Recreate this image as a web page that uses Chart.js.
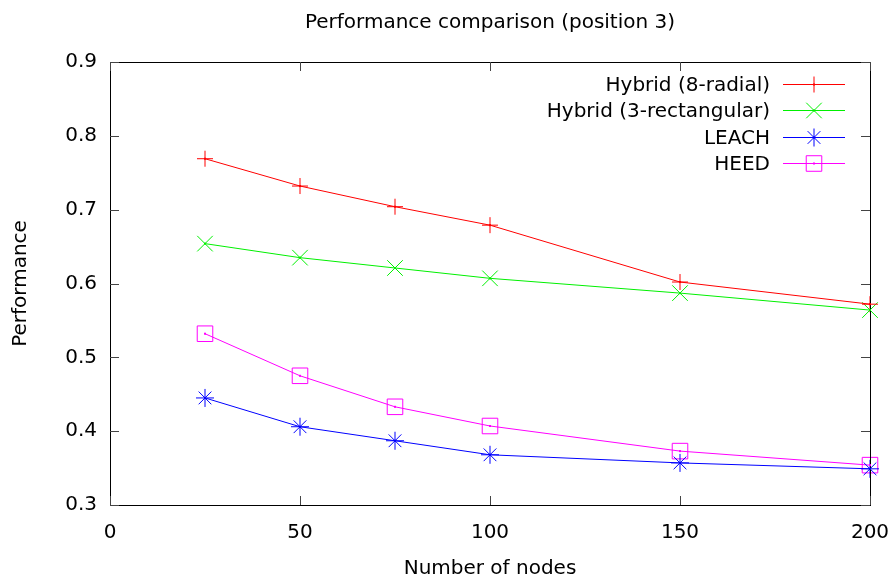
<!DOCTYPE html>
<html>
<head>
<meta charset="utf-8">
<script src="https://cdn.jsdelivr.net/npm/chart.js@4"></script>
<style>
  html, body { margin: 0; padding: 0; background: #fff; }
  #wrap { width: 892px; height: 581px; }
</style>
</head>
<body>
<div id="wrap"><canvas id="chart"></canvas></div>
<script>
const nodes = [25, 50, 75, 100, 150, 200];
const hybridRadial = [0.769, 0.732, 0.704, 0.679, 0.602, 0.572];
const hybridRect = [0.654, 0.635, 0.621, 0.607, 0.587, 0.564];
const leach = [0.445, 0.406, 0.387, 0.368, 0.357, 0.349];
const heed = [0.532, 0.475, 0.433, 0.407, 0.373, 0.354];
const xTicks = [0, 50, 100, 150, 200];
const yTicks = [0.3, 0.4, 0.5, 0.6, 0.7, 0.8, 0.9];

const FONT = '"DejaVu Sans", sans-serif';
const FS = 20;

function series(label, values, color, style, radius) {
    return {
        label: label,
        data: nodes.map((n, i) => ({ x: n, y: values[i] })),
        borderColor: color,
        backgroundColor: color,
        borderWidth: 1,
        pointStyle: style,
        pointRadius: radius,
        pointHoverRadius: radius,
        pointBorderColor: color,
        pointBackgroundColor: 'rgba(0,0,0,0)',
        pointBorderWidth: 1,
        clip: false,
        tension: 0
    };
}

// gnuplot-like frame: border, inward ticks, title, legend, centre dots
const gnuplotFrame = {
    id: 'gnuplotFrame',
    afterDatasetsDraw(chart) {
        const { ctx, chartArea: a, scales } = chart;
        ctx.save();
        ctx.strokeStyle = '#000';
        ctx.lineWidth = 1;
        ctx.strokeRect(Math.round(a.left) + 0.5, Math.round(a.top) + 0.5,
            Math.round(a.right - a.left), Math.round(a.bottom - a.top));

        const tl = 9;
        ctx.strokeStyle = '#444';
        ctx.beginPath();
        yTicks.forEach(v => {
            const y = Math.round(scales.y.getPixelForValue(v)) + 0.5;
            ctx.moveTo(a.left, y); ctx.lineTo(a.left + tl, y);
            ctx.moveTo(a.right, y); ctx.lineTo(a.right - tl, y);
        });
        xTicks.forEach(v => {
            const x = Math.round(scales.x.getPixelForValue(v)) + 0.5;
            ctx.moveTo(x, a.bottom); ctx.lineTo(x, a.bottom - tl);
            ctx.moveTo(x, a.top); ctx.lineTo(x, a.top + tl);
        });
        ctx.stroke();

        // small dot at each data point
        chart.data.datasets.forEach((ds, i) => {
            ctx.fillStyle = ds.borderColor;
            chart.getDatasetMeta(i).data.forEach(pt => {
                ctx.fillRect(pt.x - 1, pt.y - 1, 2, 2);
            });
        });

        // title
        ctx.fillStyle = '#000';
        ctx.font = FS + 'px ' + FONT;
        ctx.textAlign = 'center';
        ctx.textBaseline = 'middle';
        ctx.fillText('Performance comparison (position 3)', 490, 23);

        // legend
        ctx.textAlign = 'right';
        chart.data.datasets.forEach((ds, i) => {
            const y = Math.round(84 + i * 26.3) + 0.5;
            ctx.fillStyle = '#000';
            ctx.fillText(ds.label, 770, y + 1);
            ctx.strokeStyle = ds.borderColor;
            ctx.lineWidth = 1;
            ctx.beginPath();
            ctx.moveTo(783, y);
            ctx.lineTo(845, y);
            ctx.stroke();
            ctx.fillStyle = 'rgba(0,0,0,0)';
            Chart.helpers.drawPoint(ctx, {
                pointStyle: ds.pointStyle,
                radius: ds.pointRadius,
                borderWidth: 1
            }, 814, y);
            ctx.fillStyle = ds.borderColor;
            ctx.fillRect(813, y - 1, 2, 2);
        });
        ctx.restore();
    }
};

new Chart(document.getElementById('chart'), {
    type: 'line',
    data: {
        datasets: [
            series('Hybrid (8-radial)', hybridRadial, '#ff0000', 'cross', 8),
            series('Hybrid (3-rectangular)', hybridRect, '#00f000', 'crossRot', 11),
            series('LEACH', leach, '#0000ff', 'star', 9),
            series('HEED', heed, '#ff00ff', 'rect', 11)
        ]
    },
    options: {
        responsive: true,
        maintainAspectRatio: false,
        animation: false,
        layout: { padding: { top: 62, right: 22, left: 0, bottom: 0 } },
        plugins: {
            legend: { display: false },
            tooltip: { enabled: false },
            title: { display: false }
        },
        scales: {
            x: {
                type: 'linear',
                min: 0,
                max: 200,
                afterBuildTicks: s => { s.ticks = xTicks.map(v => ({ value: v })); },
                afterFit: s => { s.height = 76; s.paddingLeft = 0; s.paddingRight = 0; },
                grid: { display: false, drawTicks: false },
                border: { display: false },
                ticks: {
                    color: '#000',
                    font: { family: FONT, size: FS },
                    padding: 16,
                    maxRotation: 0
                },
                title: {
                    display: true,
                    text: 'Number of nodes',
                    color: '#000',
                    font: { family: FONT, size: FS },
                    padding: { top: 0, bottom: 0 }
                }
            },
            y: {
                min: 0.3,
                max: 0.9,
                afterBuildTicks: s => { s.ticks = yTicks.map(v => ({ value: v })); },
                afterFit: s => { s.width = 110; s.paddingTop = 0; s.paddingBottom = 0; },
                grid: { display: false, drawTicks: false },
                border: { display: false },
                ticks: {
                    color: '#000',
                    font: { family: FONT, size: FS },
                    padding: 13,
                    callback: v => v.toFixed(1)
                },
                title: {
                    display: true,
                    text: 'Performance',
                    color: '#000',
                    font: { family: FONT, size: FS },
                    padding: { top: 9, bottom: 0 }
                }
            }
        }
    },
    plugins: [gnuplotFrame]
});
</script>
</body>
</html>
